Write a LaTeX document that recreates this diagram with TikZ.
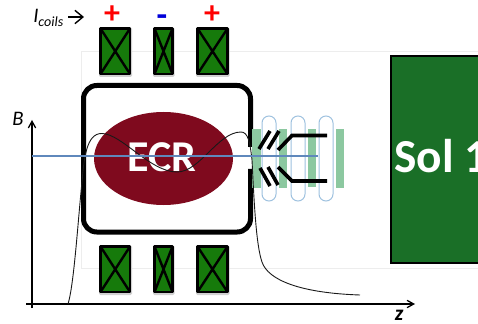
\documentclass[tikz,border=0pt]{standalone}
\usepackage{fontspec}
\setmainfont{Carlito}
\usetikzlibrary{arrows.meta,shapes.geometric}
\definecolor{coilgreen}{HTML}{167A0B}
\definecolor{solgreen}{HTML}{1A6F27}
\definecolor{ecrred}{HTML}{7F0A1E}
\definecolor{barteal}{HTML}{8CC8A0}
\definecolor{beamblue}{HTML}{5F88BC}
\definecolor{ringblue}{HTML}{9CC0DE}
\tikzset{
  px/.style={line width=#1*0.75pt},
  coil/.style={draw=black,fill=coilgreen,px=2.8,line join=round},
  coilshadow/.style={fill=black!18,draw=none,rounded corners=1pt},
  coilx/.style={draw=black,px=2.4},
  bar/.style={fill=barteal,draw=none},
  ring/.style={draw=ringblue,fill=none,px=1,rounded corners=5.2pt},
  electrode/.style={draw=black,px=3.6},
  axis/.style={draw=black,px=1.3,-{Straight Barb[length=5pt,width=5.5pt]}},
  chamber/.style={draw=black,px=5,rounded corners=10pt},
  italiclabel/.style={font=\fontsize{15.5pt}{17pt}\selectfont\itshape,text=black,inner sep=0pt},
  polarity/.style={font=\fontsize{24pt}{24pt}\selectfont\bfseries,inner sep=0pt}
}
\newcommand{\coilbox}[4]{%
  \fill[coilshadow] (#1-1.5,#2-1) rectangle (#3+2,#4+3);
  \draw[coil] (#1,#2) rectangle (#3,#4);
  \draw[coilx] (#1,#2) -- (#3,#4) (#3,#2) -- (#1,#4);
}
\begin{document}
\begin{tikzpicture}[x=0.75pt,y=-0.75pt]
\useasboundingbox (0,0) rectangle (478,324);
\clip (0,0) rectangle (478,324);
% faint frame
\draw[black!7,px=0.8] (478,51) -- (81,51) -- (81,268) -- (478,268);
% coils
\coilbox{100.5}{28.5}{130}{74}
\coilbox{154.5}{28.5}{172.5}{74}
\coilbox{197.5}{28.5}{227.5}{74}
\coilbox{100.5}{246.5}{130}{292}
\coilbox{154.5}{246.5}{172.5}{292}
\coilbox{197.5}{246.5}{227.5}{292}
% polarity and current label
\node[polarity,text=red] (plusa) at (112,14.5) {+};
\node[polarity,text=blue!85!black,font=\fontsize{26pt}{26pt}\selectfont\bfseries] (minus) at (162,21) {-};
\node[polarity,text=red] (plusb) at (212,14.5) {+};
\node[italiclabel,anchor=base west] (icoils) at (33,23) {I\raisebox{-3pt}{\fontsize{10.5pt}{12pt}\selectfont coils}};
\coordinate (iarrowa) at (68,17);
\coordinate (iarrowb) at (84,17);
\draw[draw=black,px=1.4,-{Straight Barb[length=6pt,width=10pt]}] (iarrowa) -- (iarrowb);
% ECR plasma
\node[ellipse,fill=ecrred,minimum width=139*0.75pt,minimum height=93*0.75pt,inner sep=0pt] (ecr) at (163.5,158.5) {};
\node[inner sep=0pt,font=\fontsize{33pt}{33pt}\selectfont\bfseries,text=white] (ecrtext) at (162,157) {ECR};
% chamber
\draw[chamber] (250.5,147) -- (250.5,85.5) -- (83.5,85.5) -- (83.5,232) -- (250.5,232) -- (250.5,169);
% extraction bars
\fill[bar] (252,129) rectangle (261,188);
\fill[bar] (279,129) rectangle (287,188);
\fill[bar] (308,129) rectangle (316,187);
\fill[bar] (336,129) rectangle (344,188);
% rings
\draw[ring] (262,116) rectangle (276,201);
\draw[ring] (291,116) rectangle (305,201);
\draw[ring] (319,116) rectangle (333,201);
% axes
\coordinate (origx) at (26,304);
\coordinate (endx) at (415,304);
\coordinate (origy) at (32,308);
\coordinate (endy) at (32,120);
\draw[axis] (origy) -- (endy);
\draw[axis] (origx) -- (endx);
\node[italiclabel] (blabel) at (18,119) {B};
\node[italiclabel,font=\fontsize{16pt}{16pt}\selectfont\itshape\bfseries] (zlabel) at (399,315) {z};
% electrodes
\draw[electrode] (270,131) -- (259,149);
\draw[electrode] (279,131) -- (268,149);
\draw[electrode] (278,150) -- (292,135.5) -- (327,135.5);
\draw[electrode] (260,168) -- (270,186);
\draw[electrode] (268,167) -- (278,185);
\draw[electrode] (278,167) -- (292,181) -- (327,181);
% field profile
\draw[black!90,px=0.9] (68,304) .. controls (74,285) and (78,220) .. (82,182)
  .. controls (84,160) and (86,133) .. (102,133.5)
  .. controls (122,134) and (150,172) .. (177,172)
  .. controls (200,172) and (218,132) .. (241,132)
  .. controls (248,132) and (250,142) .. (252,160)
  .. controls (254,200) and (256,245) .. (262,262)
  .. controls (268,280) and (300,293) .. (360,295);
% beam
\draw[beamblue,px=2.6] (32,156) -- (318,156);
% solenoid
\node[fill=solgreen,draw=black,px=2,minimum width=110*0.75pt,minimum height=207*0.75pt,inner sep=0pt,anchor=north west] (solbox) at (390,55) {};
\node[anchor=base west,inner sep=0pt,text=white,font=\fontsize{35.5pt}{36pt}\selectfont\bfseries] (sol) at (394,173) {Sol 1};
\end{tikzpicture}
\end{document}
